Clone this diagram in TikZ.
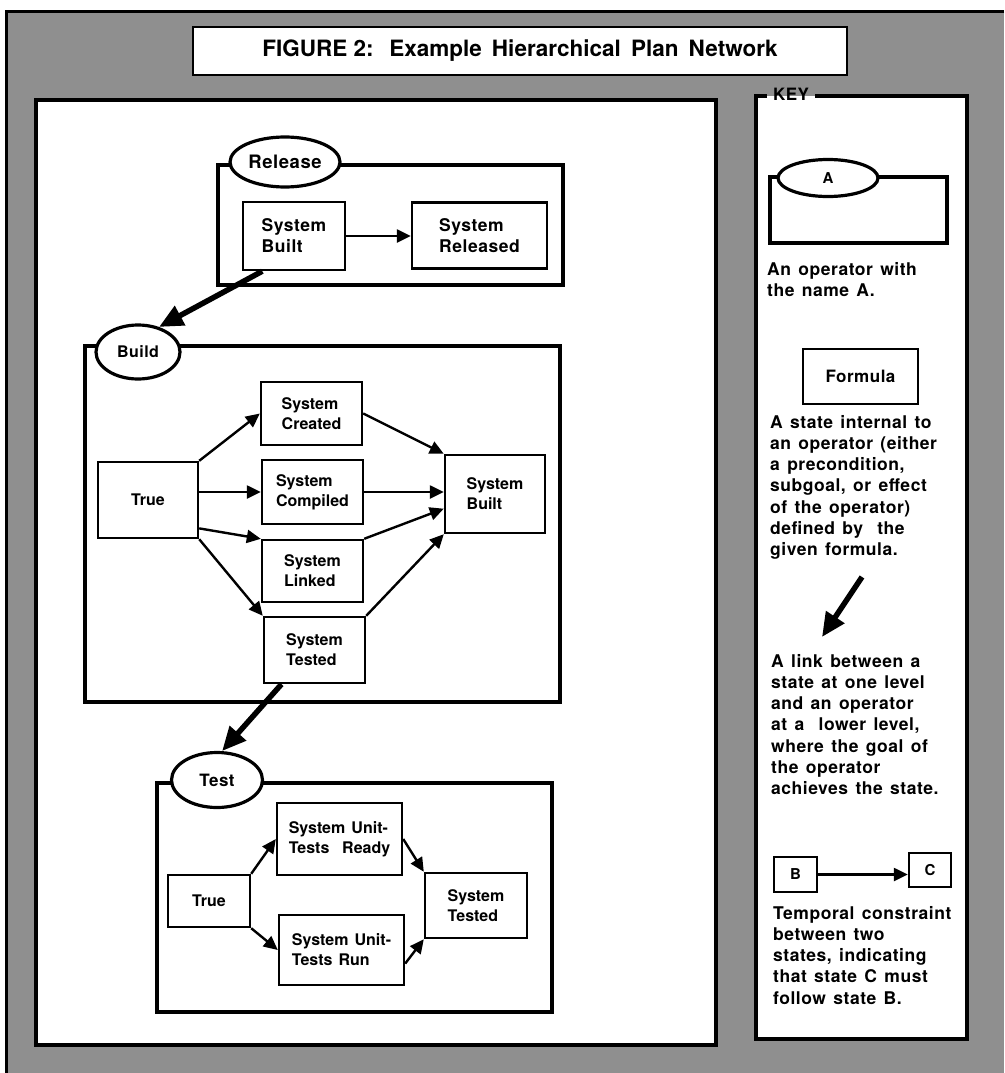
\documentclass[tikz,border=0pt]{standalone}
\usepackage{fontspec}
\setmainfont{TeX Gyre Heros}
\newfontfamily\hvfont{TeX Gyre Heros}
\newfontfamily\hvwide{TeX Gyre Heros}[LetterSpace=3]
\newcommand\nodefont{\hvfont\bfseries\fontsize{16}{20}\selectfont\spaceskip=0.38em\relax}
\newcommand\bignodefont{\hvwide\bfseries\fontsize{17.5}{21}\selectfont}
\newcommand\labfont{\hvwide\bfseries\fontsize{17}{20}\selectfont}
\newcommand\smallfont{\hvwide\bfseries\fontsize{15}{18}\selectfont}
\newcommand\keytextfont{\hvwide\bfseries\fontsize{17.5}{21.2}\selectfont\spaceskip=0.42em\relax}
\newcommand\titlefont{\hvfont\bfseries\fontsize{22.5}{26}\selectfont}
\usetikzlibrary{arrows.meta,shapes.geometric,calc}
\begin{document}
\begin{tikzpicture}[x=1pt,y=-1pt,
  stbox/.style={draw, line width=2.4pt, fill=white, align=left, inner sep=0pt, font=\nodefont},
  opname/.style={ellipse, draw, line width=3.2pt, fill=white, inner sep=0pt, font=\labfont},
  opframe/.style={line width=3.2pt},
  panel/.style={line width=4pt},
  link/.style={-{Triangle[length=14pt,width=13pt]}, line width=2.4pt},
  reduce/.style={-{Triangle[length=24pt,width=21pt]}, line width=5.5pt},
  keytext/.style={anchor=north west, align=left, inner sep=0pt, font=\keytextfont},
]
\useasboundingbox (0,0) rectangle (1004,1073);
% halftone field and outer frame
\fill[white] (0,0) rectangle (1004,1073);
\fill[black!44] (6,12) rectangle (1004,1073);
\draw[line width=3pt] (1004,12) -- (6,12) -- (6,1073);

% title
\node[draw, line width=2.8pt, fill=white, minimum width=654pt, minimum height=48pt, font=\titlefont] (title) at (520,51)
  {FIGURE 2:\hspace{0.7em}Example\hspace{0.45em}Hierarchical\hspace{0.45em}Plan\hspace{0.45em}Network};

% panels
\draw[panel, fill=white] (36,100) rectangle (716,1045);
\fill[white] (756,96) rectangle (967,1039);
\draw[panel] (767,96) -- (756,96) -- (756,1039) -- (967,1039) -- (967,96) -- (815,96);
\node[inner sep=0pt, font=\labfont] (keylabel) at (791,94) {KEY};

% ---- Release ----
\draw[opframe] (218,165) rectangle (563,285);
\node[opname, font=\hvwide\bfseries\fontsize{18.5}{21}\selectfont, minimum width=110pt, minimum height=50pt] (rel) at (285,162) {Release};
\node[stbox, font=\bignodefont, minimum width=102pt, minimum height=68pt] (relBuilt) at (294,236) {System\\Built};
\node[stbox, font=\bignodefont, minimum width=135pt, minimum height=66pt] (relReleased) at (479.5,235.5) {System\\Released};
\draw[link] (relBuilt.east) -- (relBuilt.east -| relReleased.west);

% ---- Build ----
\draw[opframe] (85,346) rectangle (560,702);
\node[opname, font=\hvwide\bfseries\fontsize{16}{20}\selectfont, minimum width=84pt, minimum height=54pt] (bld) at (138,352) {Build};
\node[stbox, minimum width=100pt, minimum height=76pt] (bTrue) at (148,500) {True};
\node[stbox, minimum width=101pt, minimum height=63pt] (bCreated) at (311.5,413.5) {System\\Created};
\node[stbox, minimum width=101pt, minimum height=64pt] (bCompiled) at (312.5,492) {System\\Compiled};
\node[stbox, minimum width=101pt, minimum height=62pt] (bLinked) at (312.5,571) {System\\Linked};
\node[stbox, minimum width=101pt, minimum height=66pt] (bTested) at (314.5,650) {System\\Tested};
\node[stbox, minimum width=100pt, minimum height=78pt] (bBuilt) at (495,494) {System\\Built};
\draw[link] (bTrue.north east) -- (bCreated.west);
\draw[link] (bTrue.east |- bCompiled.west) -- (bCompiled.west);
\draw[link] (bTrue.-29) -- (bLinked.north west);
\draw[link] (bTrue.south east) -- (bTested.north west);
\draw[link] (bCreated.east) -- (bBuilt.north west);
\draw[link] (bCompiled.east) -- (bCompiled.east -| bBuilt.west);
\draw[link] (bLinked.north east) -- (bBuilt.196);
\draw[link] (bTested.north east) -- (bBuilt.south west);

% ---- Test ----
\draw[opframe] (157,783) rectangle (552,1012);
\node[opname, minimum width=91pt, minimum height=55pt] (tst) at (217,780) {Test};
\node[stbox, minimum width=82pt, minimum height=52pt] (tTrue) at (209,901) {True};
\node[stbox, minimum width=125pt, minimum height=72pt] (tReady) at (339.5,839) {System Unit-\\Tests\hspace{0.8em}Ready};
\node[stbox, minimum width=125pt, minimum height=70pt] (tRun) at (341.5,950) {System Unit-\\Tests Run};
\node[stbox, minimum width=102pt, minimum height=65pt] (tTested) at (476,905.5) {System\\Tested};
\draw[link] (tTrue.north east) -- (tReady.west);
\draw[link] (tTrue.south east) -- (tRun.west);
\draw[link] (tReady.east) -- (tTested.north west);
\draw[link] (tRun.-12) -- (tTested.south west);

% ---- links between levels ----
\draw[reduce] (relBuilt.228) -- (bld.50);
\draw[reduce] (bTested.226) -- (tst.80);

% ---- key ----
\draw[opframe] (770,177) rectangle (947,243);
\node[opname, font=\smallfont, minimum width=100pt, minimum height=37pt] (kA) at (828,178) {A};
\node[keytext] (kAtext) at (767,262) {An operator with\\the name A.};
\node[stbox, font=\labfont, minimum width=115pt, minimum height=55pt] (kFormula) at (860.5,376.5) {Formula};
\node[keytext] (kFtext) at (770,415) {A state internal to\\an operator (either\\a precondition,\\subgoal, or effect\\of the operator)\\defined by\hspace{0.4em} the\\given formula.};
\coordinate (kLinkFrom) at (862,577);
\coordinate (kLinkTo) at (822,637);
\draw[reduce] (kLinkFrom) -- (kLinkTo);
\node[keytext] (kLtext) at (771,654) {A link between a\\state at one level\\and an operator\\at a\hspace{0.4em} lower level,\\where the goal of\\the operator\\achieves the state.};
\node[stbox, font=\smallfont, minimum width=43pt, minimum height=35pt] (kB) at (795.5,874.5) {B};
\node[stbox, font=\smallfont, minimum width=42pt, minimum height=34pt] (kC) at (930,870) {C};
\draw[link] (kB.east) -- (kB.east -| kC.west);
\node[keytext] (kTtext) at (773,906) {Temporal constraint\\between two\\states, indicating\\that state C must\\follow state B.};
\end{tikzpicture}
\end{document}
